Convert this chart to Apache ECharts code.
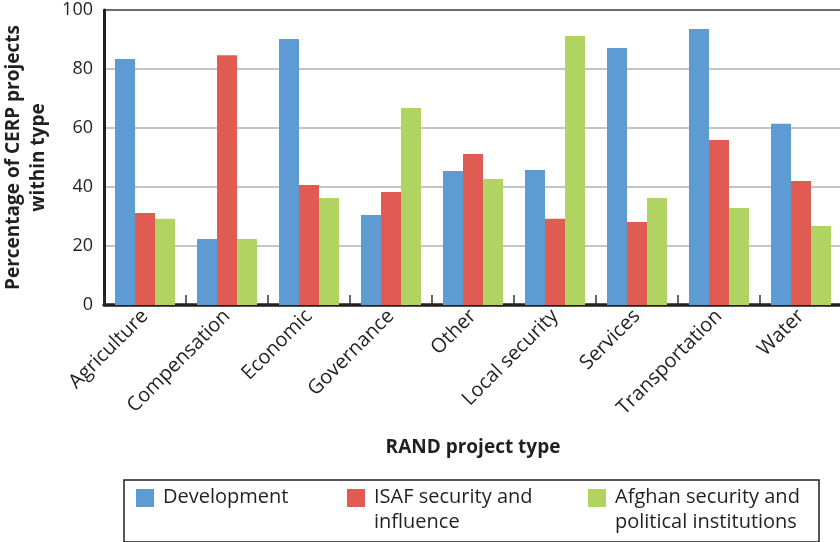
<!DOCTYPE html>
<html>
<head>
<meta charset="utf-8">
<script src="https://cdn.jsdelivr.net/npm/echarts@6/dist/echarts.min.js"></script>
<style>html,body{margin:0;padding:0;background:#fff;}#c{width:840px;height:542px;}</style>
</head>
<body>
<div id="c"></div>
<script>
const categories = ['Agriculture','Compensation','Economic','Governance','Other','Local security','Services','Transportation','Water'];
const development = [83.4, 22.4, 90.2, 30.5, 45.4, 45.8, 87.1, 93.6, 61.4];
const isaf = [31.2, 84.7, 40.7, 38.3, 51.2, 29.2, 28.1, 55.9, 42.0];
const afghan = [29.2, 22.4, 36.3, 66.8, 42.7, 91.2, 36.3, 32.9, 26.8];
const yTicks = [0, 20, 40, 60, 80, 100];
const seriesNames = ['Development', 'ISAF security and influence', 'Afghan security and political institutions'];
const legendLabels = ['Development\n ', 'ISAF security and\ninfluence', 'Afghan security and\npolitical institutions'];

const FONT = '"Open Sans", "Noto Sans", sans-serif';
const INK = '#231f20';
const colors = ['#5e9bd3', '#e05c52', '#b0d362'];
const icon = 'path://M0,0H18V18H0Z M0,42H18';
const textWidths = [184, 214, 204];

const chart = echarts.init(document.getElementById('c'), null, {renderer: 'canvas'});
chart.setOption({
  animation: false,
  textStyle: {fontFamily: FONT, color: INK},
  grid: {left: 104, top: 10, width: 738, height: 295, containLabel: false, outerBoundsMode: 'none'},
  legend: {
    left: 124, top: 480,
    orient: 'horizontal',
    padding: [5, 0, 7, 12],
    itemGap: 0,
    itemWidth: 18, itemHeight: 42,
    borderColor: INK, borderWidth: 1.5,
    selectedMode: false,
    formatter: function (n) { return legendLabels[seriesNames.indexOf(n)]; },
    data: seriesNames.map((n, i) => ({
      name: n, icon: icon,
      textStyle: {fontFamily: FONT, fontSize: 20, color: INK, lineHeight: 25, width: textWidths[i], padding: [0, 0, 0, 4]}
    }))
  },
  xAxis: {
    type: 'category',
    data: categories,
    boundaryGap: true,
    axisLine: {show: true, lineStyle: {color: INK, width: 3.5}},
    axisTick: {show: true, inside: true, length: 10, interval: 0, lineStyle: {color: '#333', width: 1.5}},
    axisLabel: {rotate: 45, interval: 0, fontSize: 20, color: INK, fontFamily: FONT, margin: 8},
    name: 'RAND project type',
    nameLocation: 'middle',
    nameGap: 133,
    nameTextStyle: {fontFamily: FONT, fontWeight: 'bold', fontSize: 19, color: INK}
  },
  yAxis: {
    type: 'value',
    min: 0, max: 100, interval: 20,
    axisLine: {show: true, lineStyle: {color: INK, width: 3}},
    axisTick: {show: false},
    axisLabel: {fontSize: 18, color: INK, fontFamily: FONT, margin: 11,
      formatter: function (v) { return yTicks.indexOf(v) >= 0 ? String(v) : ''; }},
    splitLine: {show: true, lineStyle: {color: ['#b0b0b0', '#b0b0b0', '#b0b0b0', '#b0b0b0', '#b0b0b0', '#3a3a3a'], width: 1.6}},
    name: 'Percentage of CERP projects\nwithin type',
    nameLocation: 'middle',
    nameGap: 52,
    nameRotate: 90,
    nameTextStyle: {fontFamily: FONT, fontWeight: 'bold', fontSize: 19, color: INK, lineHeight: 25}
  },
  series: [
    {name: seriesNames[0], type: 'bar', data: development, barWidth: 20, barGap: '0%', itemStyle: {color: colors[0]}},
    {name: seriesNames[1], type: 'bar', data: isaf, barWidth: 20, barGap: '0%', itemStyle: {color: colors[1]}},
    {name: seriesNames[2], type: 'bar', data: afghan, barWidth: 20, barGap: '0%', itemStyle: {color: colors[2]}}
  ]
});
</script>
</body>
</html>
